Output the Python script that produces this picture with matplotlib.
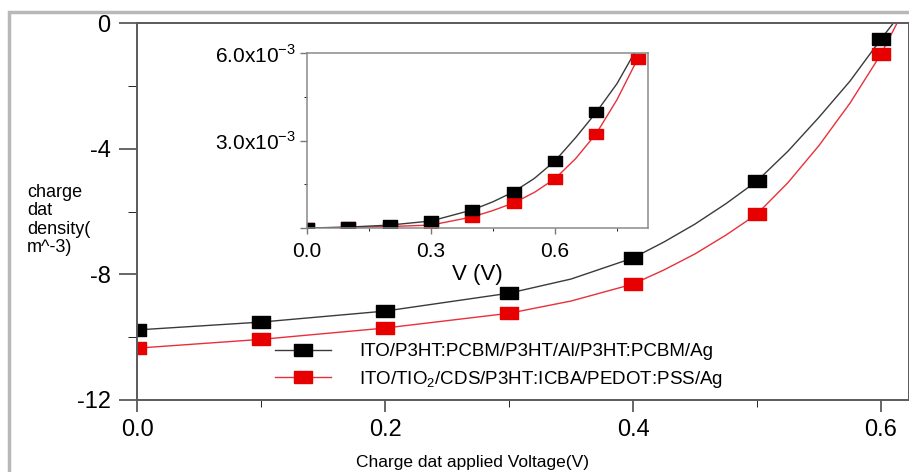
import matplotlib
matplotlib.use('Agg')
import matplotlib.pyplot as plt
from matplotlib.lines import Line2D
from matplotlib.patches import Rectangle

plt.rcParams['font.family'] = ['Liberation Sans', 'DejaVu Sans']
plt.rcParams['mathtext.fontset'] = 'custom'
plt.rcParams['mathtext.rm'] = 'Liberation Sans'

# main plot: markers
v_main = [0.0, 0.1, 0.2, 0.3, 0.4, 0.5, 0.6]
black_main = [-9.77, -9.52, -9.17, -8.60, -7.48, -5.03, -0.51]
red_main = [-10.35, -10.07, -9.71, -9.24, -8.31, -6.08, -0.99]

# main plot: curves
v_black_line = [0.0, 0.1, 0.2, 0.3, 0.35, 0.4, 0.425, 0.45, 0.475, 0.5,
                0.525, 0.55, 0.575, 0.6, 0.61]
black_line = [-9.77, -9.52, -9.17, -8.60, -8.15, -7.48, -6.97, -6.4, -5.75, -5.03,
              -4.08, -3.0, -1.85, -0.51, 0.0]
v_red_line = [0.0, 0.1, 0.2, 0.3, 0.35, 0.4, 0.425, 0.45, 0.475, 0.5,
              0.525, 0.55, 0.575, 0.6, 0.613]
red_line = [-10.35, -10.07, -9.71, -9.24, -8.85, -8.31, -7.86, -7.35, -6.75, -6.08,
            -5.08, -3.9, -2.55, -0.99, 0.0]

# inset
v_inset = [0.0, 0.1, 0.2, 0.3, 0.4, 0.5, 0.6, 0.7, 0.8]
black_inset = [0.0, 0.00003, 0.0001, 0.00024, 0.00062, 0.00124, 0.0023, 0.00397, 0.0062]
red_inset = [0.0, 0.00002, 0.00005, 0.0001, 0.00038, 0.00086, 0.00169, 0.00324, 0.0058]
v_inset_line = [0.0, 0.1, 0.2, 0.3, 0.4, 0.45, 0.5, 0.55, 0.6, 0.65, 0.7, 0.75, 0.8]
black_inset_line = [0.0, 0.00003, 0.0001, 0.00024, 0.00062, 0.0009, 0.00124, 0.0017,
                    0.0023, 0.0031, 0.00397, 0.00495, 0.0062]
red_inset_line = [0.0, 0.00002, 0.00005, 0.0001, 0.00038, 0.0006, 0.00086, 0.00122,
                  0.00169, 0.00238, 0.00324, 0.0044, 0.0058]

labels = ['ITO/P3HT:PCBM/P3HT/Al/P3HT:PCBM/Ag',
          'ITO/TIO$_2$/CDS/P3HT:ICBA/PEDOT:PSS/Ag']
main_ticks = [0.0, 0.2, 0.4, 0.6]
inset_xticks = [0.0, 0.3, 0.6]
inset_yticks = [0.0, 0.003, 0.006]
inset_ylabels = ['', '3.0x10$^{-3}$', '6.0x10$^{-3}$']

blk_line = '#3a3a3a'
red_ln = '#e8303a'
blk_mk = '#000000'
red_mk = '#e60000'
spine_c = '#5a5a5a'
# the squares in the picture are a bit wider than tall
box = [(-1, -0.67), (1, -0.67), (1, 0.67), (-1, 0.67), (-1, -0.67)]

fig = plt.figure(figsize=(9.09, 4.72), dpi=100)

# light grey frame round the figure
fig.patches.append(Rectangle((0.0099, -0.1), 1.2, 0.1 + 460 / 472, fill=False,
                             edgecolor='#b8b8b8', linewidth=2.5,
                             transform=fig.transFigure, zorder=0))

ax = fig.add_axes([137 / 909, 72 / 472, 772 / 909, 377 / 472])
ax.plot(v_red_line, red_line, color=red_ln, lw=1.0)
ax.plot(v_black_line, black_line, color=blk_line, lw=1.0)
ax.plot(v_main, red_main, marker=box, ls='none', color=red_mk, ms=13, mec=red_mk)
ax.plot(v_main, black_main, marker=box, ls='none', color=blk_mk, ms=13, mec=blk_mk)
ax.set_xlim(0, 772 / 1240)
ax.set_ylim(-12, 0)
ax.set_xticks(main_ticks)
ax.set_xticks([0.1, 0.3, 0.5], minor=True)
ax.set_yticks([-12, -8, -4, 0])
ax.set_yticks([-10, -6, -2], minor=True)
ax.set_xticklabels(['0.0', '0.2', '0.4', '0.6'])
ax.set_yticklabels(['-12', '-8', '-4', '0'])
ax.tick_params(axis='both', labelsize=17, color=spine_c, width=1.3)
ax.tick_params(axis='y', which='major', length=13, pad=6)
ax.tick_params(axis='y', which='minor', length=6.5)
ax.tick_params(axis='x', which='major', length=8.5, pad=5)
ax.tick_params(axis='x', which='minor', length=5)
for s in ax.spines.values():
    s.set_color(spine_c)
    s.set_linewidth(1.4)

handles = [Line2D([], [], color=blk_line, lw=1.0, marker=box, ms=13, mfc=blk_mk, mec=blk_mk),
           Line2D([], [], color=red_ln, lw=1.0, marker=box, ms=13, mfc=red_mk, mec=red_mk)]
fig.legend(handles, labels, loc='center left', bbox_to_anchor=(258 / 909, 105.5 / 472),
           frameon=False, fontsize=13.5, handlelength=3.0, handletextpad=1.5,
           labelspacing=0.45, borderpad=0.4)

fig.text(27 / 909, 1 - 184 / 472, 'charge\ndat\ndensity(\nm^-3)', fontsize=13,
         ha='left', va='top', linespacing=1.1)
fig.text(473 / 909, 1 - 462 / 472, 'Charge dat applied Voltage(V)', fontsize=12.5,
         ha='center', va='center')

# inset
ins = fig.add_axes([307 / 909, 244 / 472, 341 / 909, 175 / 472])
ins.plot(v_inset_line, red_inset_line, color=red_ln, lw=1.0)
ins.plot(v_inset_line, black_inset_line, color=blk_line, lw=1.0)
ins.plot(v_inset, red_inset, marker=box, ls='none', color=red_mk, ms=10, mec=red_mk)
ins.plot(v_inset, black_inset, marker=box, ls='none', color=blk_mk, ms=10, mec=blk_mk)
ins.set_xlim(0, 0.825)
ins.set_ylim(0, 0.006)
ins.set_xticks(inset_xticks)
ins.set_xticks([0.15, 0.45, 0.75], minor=True)
ins.set_xticklabels(['0.0', '0.3', '0.6'])
ins.set_yticks(inset_yticks)
ins.set_yticks([0.0015, 0.0045], minor=True)
ins.set_yticklabels(inset_ylabels)
ins.tick_params(axis='both', color='#777777', width=1.0)
ins.tick_params(axis='x', which='major', labelsize=15, length=4, pad=6)
ins.tick_params(axis='y', which='major', labelsize=15, length=5, pad=3)
ins.tick_params(which='minor', length=2.5)
ins.set_xlabel('V (V)', fontsize=16, labelpad=2)
for s in ins.spines.values():
    s.set_color('#8a8a8a')
    s.set_linewidth(1.1)

fig.savefig('out.png', dpi=100)
